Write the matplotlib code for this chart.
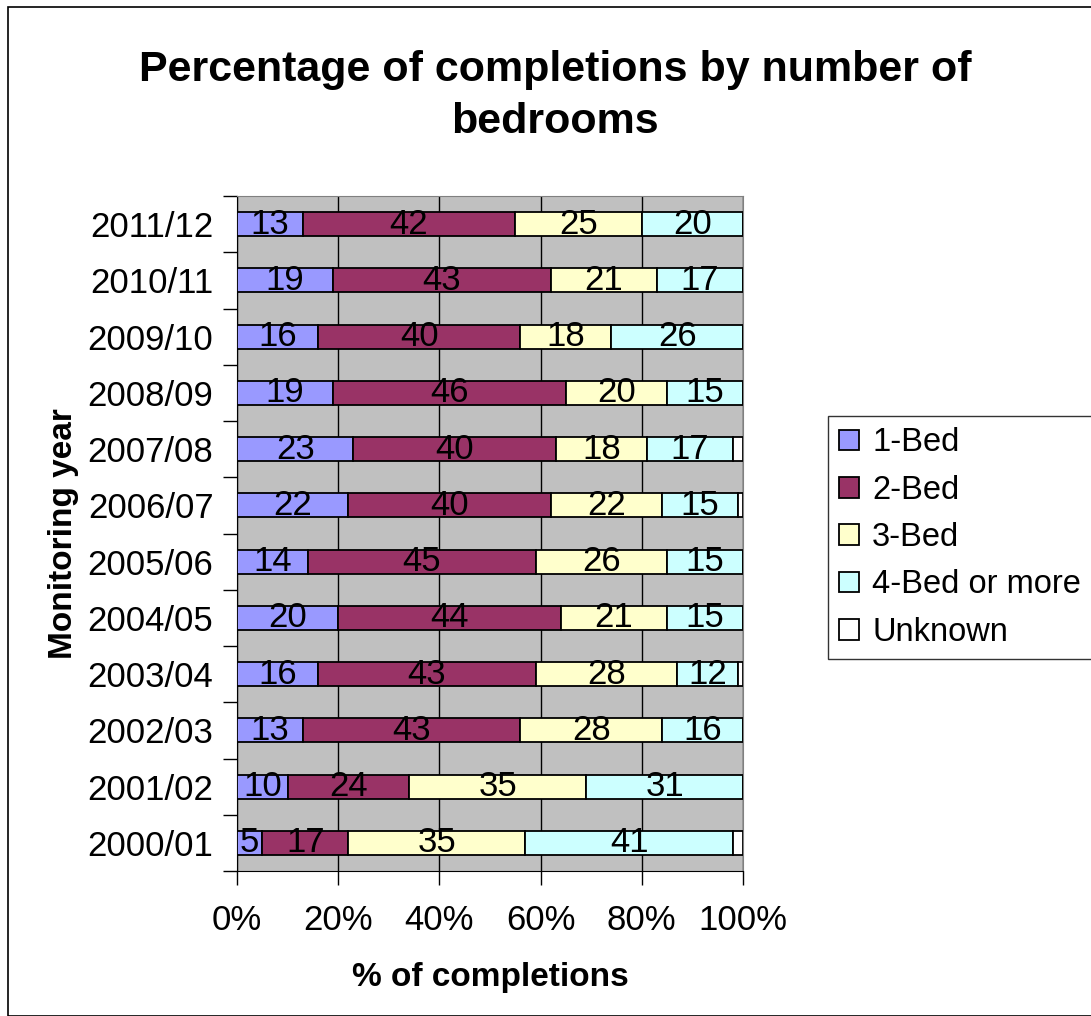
import matplotlib.pyplot as plt
import numpy as np
from matplotlib.patches import Rectangle

plt.rcParams['font.family'] = ['Liberation Sans', 'DejaVu Sans']

years = ["2000/01", "2001/02", "2002/03", "2003/04", "2004/05", "2005/06",
         "2006/07", "2007/08", "2008/09", "2009/10", "2010/11", "2011/12"]
bed1 = [5, 10, 13, 16, 20, 14, 22, 23, 19, 16, 19, 13]
bed2 = [17, 24, 43, 43, 44, 45, 40, 40, 46, 40, 43, 42]
bed3 = [35, 35, 28, 28, 21, 26, 22, 18, 20, 18, 21, 25]
bed4 = [41, 31, 16, 12, 15, 15, 15, 17, 15, 26, 17, 20]
unknown = [2, 0, 0, 1, 0, 0, 1, 2, 0, 0, 0, 0]

series = [("1-Bed", bed1, "#9999FF"),
          ("2-Bed", bed2, "#993366"),
          ("3-Bed", bed3, "#FFFFCC"),
          ("4-Bed or more", bed4, "#CCFFFF"),
          ("Unknown", unknown, "#FFFFFF")]

fig = plt.figure(figsize=(10.91, 10.16), dpi=100)
fig.patches.append(Rectangle((8/1091, 0), 1.0, 1 - 7/1016, transform=fig.transFigure,
                             fill=False, edgecolor="black", linewidth=1.2))
ax = fig.add_axes([237/1091, 1 - 871/1016, 506/1091, 675/1016])
ax.set_facecolor("#C0C0C0")

y = np.arange(len(years))
left = np.zeros(len(years))
for name, vals, col in series:
    vals = np.array(vals, dtype=float)
    ax.barh(y, vals, left=left, height=0.43, color=col, edgecolor="black",
            linewidth=1.3, label=name, zorder=3)
    if name != "Unknown":
        for yi, l, v in zip(y, left, vals):
            if v > 0:
                ax.text(l + v / 2, yi, f"{int(v)}", ha="center", va="center",
                        fontsize=25, color="black", zorder=4)
    left += vals

ax.set_xlim(0, 100)
ax.set_ylim(-0.5, len(years) - 0.5)
ax.set_xticks(np.arange(0, 101, 20))
ax.set_xticklabels([f"{v}%" for v in range(0, 101, 20)], fontsize=25)
ax.xaxis.grid(True, color="black", linewidth=1, zorder=1)
ax.set_axisbelow(True)
ax.tick_params(axis="x", length=10, width=1, pad=14, color="black")

ax.set_yticks(y)
ax.set_yticklabels(years, fontsize=25)
ax.tick_params(axis="y", which="major", length=0, pad=17)
ax.set_yticks(np.arange(-0.5, len(years), 1), minor=True)
ax.tick_params(axis="y", which="minor", length=10, width=1, color="black")

for s in ["top", "right"]:
    ax.spines[s].set_color("#808080")
ax.spines["left"].set_color("black")
ax.spines["bottom"].set_color("black")

ax.set_xlabel("% of completions", fontsize=24, fontweight="bold", labelpad=18)
ax.set_ylabel("Monitoring year", fontsize=24, fontweight="bold", labelpad=6)

fig.text(555/1091, 1 - 96/1016, "Percentage of completions by number of\nbedrooms",
         ha="center", va="center", fontsize=31, fontweight="bold", linespacing=1.4)

leg = fig.legend(loc="upper left", bbox_to_anchor=(828/1091, 1 - 416/1016),
                 fontsize=23.5, frameon=True, fancybox=False, edgecolor="black",
                 handlelength=0.6, handleheight=0.6, handletextpad=0.4,
                 labelspacing=0.5, borderpad=0.35, borderaxespad=0)
leg.get_frame().set_linewidth(1)

fig.savefig("out.png", dpi=100)
